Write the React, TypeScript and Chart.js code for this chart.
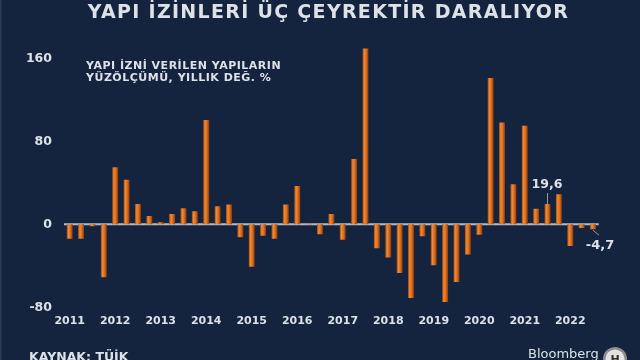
import React, { useEffect, useRef } from "react";
import { Chart, registerables } from "chart.js";

Chart.register(...registerables);

// ---- data ----
const years = ["2011", "2012", "2013", "2014", "2015", "2016", "2017", "2018", "2019", "2020", "2021", "2022"];
const values2011 = [-14, -14, -2, -51];
const values2012 = [55, 43, 19.5, 8];
const values2013 = [2, 10, 15.5, 12.5];
const values2014 = [100.5, 17.5, 19, -12.5];
const values2015 = [-41, -11, -14, 19];
const values2016 = [37, 0.5, -9.5, 10];
const values2017 = [-15, 63, 169.5, -23];
const values2018 = [-32, -47, -71, -11.5];
const values2019 = [-39.5, -75, -55.5, -29];
const values2020 = [-10, 141, 98, 38.5];
const values2021 = [95, 15, 19.6, 29];
const values2022 = [-21, -3.5, -4.7];
const yTickValues = [-80, 0, 80, 160];
const annotatedIndices = [42, 46];

const TITLE = "YAPI İZİNLERİ ÜÇ ÇEYREKTİR DARALIYOR";
const SUBTITLE = ["YAPI İZNİ VERİLEN YAPILARIN", "YÜZÖLÇÜMÜ, YILLIK DEĞ. %"];
const SOURCE = "KAYNAK: TÜİK";
const BRAND = "Bloomberg";

const values = [
  ...values2011, ...values2012, ...values2013, ...values2014, ...values2015, ...values2016,
  ...values2017, ...values2018, ...values2019, ...values2020, ...values2021, ...values2022,
];
const labels = values.map((_, i) => (i % 4 === 0 ? years[i / 4] : ""));

const BG = "#14243e";
const TEXT = "#dde1e8";
const FONT = "'DejaVu Sans', 'Verdana', sans-serif";

function fmt(v: number) {
  return v.toFixed(1).replace(".", ",");
}

const decorPlugin = {
  id: "decor",
  beforeDraw(chart: any) {
    const ctx = chart.ctx;
    ctx.save();
    ctx.fillStyle = BG;
    ctx.fillRect(0, 0, chart.width, chart.height);
    ctx.fillStyle = "#2a3a56";
    ctx.fillRect(0, 0, 1.5, chart.height);
    ctx.restore();
  },
  beforeDatasetsDraw(chart: any) {
    const ctx = chart.ctx;
    const { left, right } = chart.chartArea;
    const y0 = chart.scales.y.getPixelForValue(0);
    ctx.save();
    ctx.strokeStyle = "#b3bbc7";
    ctx.lineWidth = 2;
    ctx.beginPath();
    ctx.moveTo(left, y0);
    ctx.lineTo(right, y0);
    ctx.stroke();
    ctx.restore();
  },
  afterDraw(chart: any) {
    const ctx = chart.ctx;
    ctx.save();
    // title
    ctx.fillStyle = TEXT;
    ctx.textAlign = "center";
    ctx.textBaseline = "alphabetic";
    ctx.font = `bold 19px ${FONT}`;
    (ctx as any).letterSpacing = "1.3px";
    ctx.fillText(TITLE, 328.5, 17.5);
    // subtitle
    ctx.textAlign = "left";
    ctx.font = `bold 11px ${FONT}`;
    (ctx as any).letterSpacing = "0.5px";
    ctx.fillText(SUBTITLE[0], 86, 68.5);
    ctx.fillText(SUBTITLE[1], 86, 81);
    (ctx as any).letterSpacing = "0px";
    // source
    ctx.font = `bold 12.5px ${FONT}`;
    ctx.fillText(SOURCE, 29, 361);
    // brand
    ctx.font = `13px ${FONT}`;
    ctx.fillText(BRAND, 528, 357.5);
    // logo
    ctx.beginPath();
    ctx.arc(615, 359, 12, 0, Math.PI * 2);
    ctx.fillStyle = "#8c8c8c";
    ctx.fill();
    ctx.beginPath();
    ctx.arc(615, 359, 9.5, 0, Math.PI * 2);
    ctx.fillStyle = "#e3e3e3";
    ctx.fill();
    ctx.fillStyle = "#3a2a2a";
    ctx.font = `bold 11px ${FONT}`;
    ctx.textAlign = "center";
    ctx.fillText("H", 615, 363);

    // annotations
    const xs = chart.scales.x;
    const ys = chart.scales.y;
    annotatedIndices.forEach((idx) => {
      const v = values[idx];
      const x = xs.getPixelForValue(idx);
      const yv = ys.getPixelForValue(v);
      ctx.strokeStyle = "#8f9aab";
      ctx.lineWidth = 1;
      ctx.fillStyle = TEXT;
      ctx.textAlign = "center";
      if (v >= 0) {
        ctx.beginPath();
        ctx.moveTo(x, yv - 11);
        ctx.lineTo(x, yv);
        ctx.stroke();
        ctx.font = `bold 12.5px ${FONT}`;
        ctx.fillText(fmt(v), x - 0.5, yv - 16);
      } else {
        ctx.beginPath();
        ctx.moveTo(x, yv + 1);
        ctx.lineTo(x + 6, yv + 6);
        ctx.stroke();
        ctx.font = `bold 13px ${FONT}`;
        ctx.fillText(fmt(v), x + 7, yv + 20);
      }
    });
    ctx.restore();
  },
};

function barFill(c: any) {
  const chart = c.chart;
  const xs = chart.scales && chart.scales.x;
  if (!xs || !chart.chartArea) return "#d2691e";
  const x = xs.getPixelForValue(c.dataIndex);
  const g = chart.ctx.createLinearGradient(x - 3, 0, x + 3, 0);
  g.addColorStop(0, "#9a4510");
  g.addColorStop(0.3, "#ee8c36");
  g.addColorStop(0.6, "#de6f1f");
  g.addColorStop(1, "#8c3b0b");
  return g;
}

export default function App() {
  const ref = useRef<HTMLCanvasElement | null>(null);
  useEffect(() => {
    document.body.style.margin = "0";
    document.body.style.background = BG;
    const canvas = ref.current!;
    const chart = new Chart(canvas, {
      type: "bar",
      data: {
        labels,
        datasets: [
          {
            data: values,
            backgroundColor: barFill as any,
            borderWidth: 0,
            barPercentage: 0.52,
            categoryPercentage: 1,
          },
        ],
      },
      options: {
        responsive: false,
        animation: false,
        devicePixelRatio: 1,
        layout: { padding: { top: 37.5, right: 41.3, bottom: 32.7, left: 0 } },
        plugins: { legend: { display: false }, tooltip: { enabled: false }, title: { display: false } },
        scales: {
          x: {
            type: "category",
            offset: true,
            grid: { display: false, drawTicks: false },
            border: { display: false },
            ticks: {
              autoSkip: false,
              maxRotation: 0,
              minRotation: 0,
              padding: 7,
              color: TEXT,
              font: { family: FONT, weight: "bold", size: 11 },
            },
            afterFit: (s: any) => {
              s.height = 20;
            },
          },
          y: {
            min: -80,
            max: 180,
            grid: { display: false, drawTicks: false },
            border: { display: false },
            afterBuildTicks: (s: any) => {
              s.ticks = yTickValues.map((v) => ({ value: v }));
            },
            ticks: {
              padding: 12,
              color: TEXT,
              font: { family: FONT, weight: "bold", size: 12.5 },
            },
            afterFit: (s: any) => {
              s.width = 64;
            },
          },
        },
      },
      plugins: [decorPlugin],
    } as any);
    return () => chart.destroy();
  }, []);
  return (
    <div style={{ position: "fixed", left: 0, top: 0, width: 640, height: 360, background: BG }}>
      <canvas ref={ref} width={640} height={360} style={{ display: "block", width: 640, height: 360 }} />
    </div>
  );
}
